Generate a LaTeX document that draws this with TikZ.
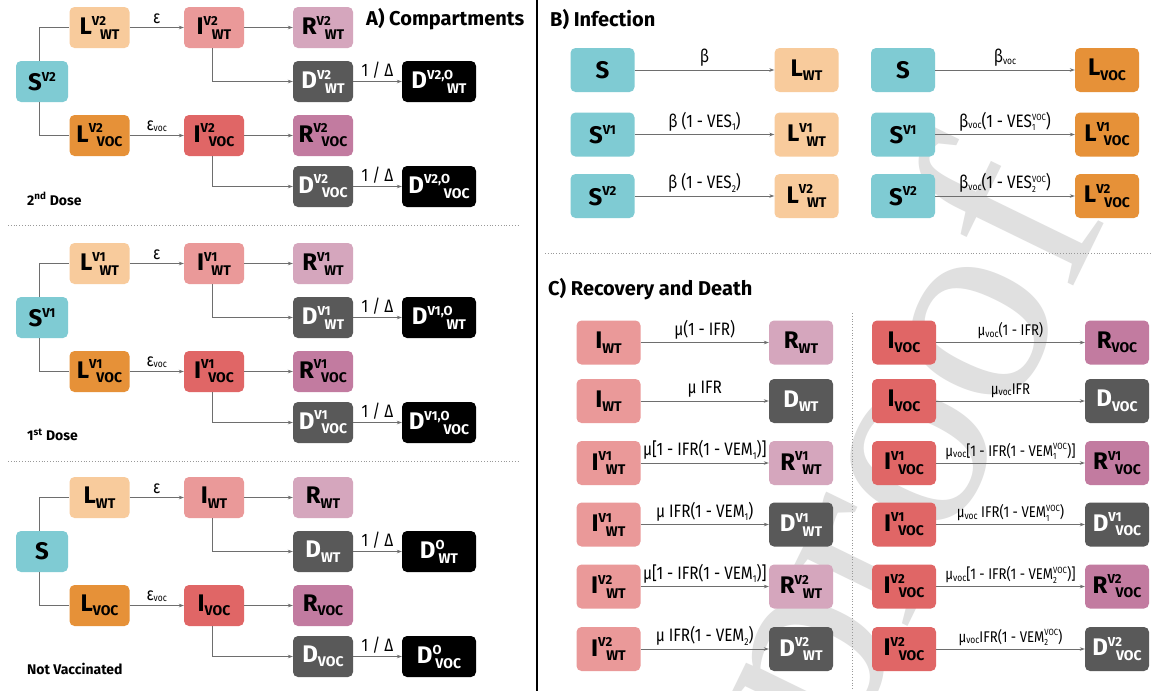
\documentclass[tikz,border=0pt]{standalone}
\usepackage{fontspec}
\setmainfont{Fira Sans}
\newfontfamily\lfont{Fira Sans}[FakeStretch=0.85]
\newfontfamily\wmfont{Liberation Serif}
\usetikzlibrary{arrows.meta}
\definecolor{cS}{HTML}{7FCBD3}
\definecolor{cLW}{HTML}{F8CB9C}
\definecolor{cLV}{HTML}{E69138}
\definecolor{cIW}{HTML}{EA9999}
\definecolor{cIV}{HTML}{E06666}
\definecolor{cRW}{HTML}{D5A6BD}
\definecolor{cRV}{HTML}{C27BA0}
\definecolor{cD}{HTML}{595959}
\definecolor{cLine}{HTML}{6E6E6E}
\definecolor{wmc}{HTML}{E0E0E0}
\newcommand\Up[1]{\raisebox{9.5pt}{\fontsize{13}{13}\selectfont #1}}
\newcommand\Dn[1]{\raisebox{-4.5pt}{\fontsize{14}{14}\selectfont #1}}
\newcommand\cx[3]{\def\tmpa{#2}\ifx\tmpa\empty #1\Dn{#3}\else #1\Up{#2}\kern-6pt\Dn{#3}\fi}
\newcommand\cy[2]{\def\tmpa{#2}\ifx\tmpa\empty #1\else #1\Up{#2}\fi}
\newcommand\lsub[1]{\raisebox{-1.5pt}{\fontsize{10}{10}\selectfont #1}}
\newcommand\lsb[1]{\raisebox{-3.5pt}{\fontsize{10}{10}\selectfont #1}}
\newcommand\lss[2]{\makebox[0pt][l]{\raisebox{-3.5pt}{\fontsize{9}{9}\selectfont #2}}\raisebox{6.5pt}{\fontsize{9}{9}\selectfont #1}}
\tikzset{
  bx/.style={rounded corners=5pt, inner sep=0pt, font=\bfseries\fontsize{24}{24}\selectfont, text=black},
  ba/.style={bx, minimum width=60pt, minimum height=41pt},
  bb/.style={bx, minimum width=64pt, minimum height=44pt},
  ln/.style={draw=cLine, line width=0.9pt},
  arr/.style={ln, -{Stealth[length=5pt,width=3.6pt]}},
  lab/.style={font=\lfont\fontsize{18}{18}\selectfont, text=black, inner sep=3pt},
  labr/.style={font=\lfont\fontsize{15.5}{15.5}\selectfont, text=black, inner sep=3pt},
  ttl/.style={font=\bfseries\fontsize{20}{20}\selectfont, anchor=west, inner sep=0pt},
  dose/.style={font=\bfseries\fontsize{14}{14}\selectfont, anchor=west, inner sep=0pt},
  sep/.style={draw=gray!80, dotted, line width=0.8pt},
}
\newcommand\Ablock[5]{%
\node[bx,fill=cS,minimum width=52pt,minimum height=41pt] (#2S) at (42,{81.5+#1}) {\cy{S}{#3}};
\node[ba,fill=cLW] (#2LW) at (99.5,{27.5+#1}) {\cx{L}{#3}{WT}};
\node[ba,fill=cIW] (#2IW) at (214,{27.5+#1}) {\cx{I}{#3}{WT}};
\node[ba,fill=cRW] (#2RW) at (323,{27.5+#1}) {\cx{R}{#3}{WT}};
\node[ba,fill=cD,text=white] (#2DW) at (323,{81.5+#1}) {\cx{D}{#3}{WT}};
\node[ba,fill=black,text=white,minimum width=74pt] (#2OW) at (439,{81.5+#1}) {\cx{D}{#4}{WT}};
\node[ba,fill=cLV] (#2LV) at (99.5,{135.5+#1}) {\cx{L}{#3}{VOC}};
\node[ba,fill=cIV] (#2IV) at (214,{135.5+#1}) {\cx{I}{#3}{VOC}};
\node[ba,fill=cRV] (#2RV) at (323,{135.5+#1}) {\cx{R}{#3}{VOC}};
\node[ba,fill=cD,text=white] (#2DV) at (323,{186.5+#1}) {\cx{D}{#3}{VOC}};
\node[ba,fill=black,text=white,minimum width=74pt] (#2OV) at (439,{186.5+#1}) {\cx{D}{#4}{VOC}};
\node[dose] (#2lab) at (27,{199+#1}) {#5};
\draw[ln] ([xshift=-3pt]#2S.north) |- (#2LW.west);
\draw[ln] ([xshift=-3pt]#2S.south) |- (#2LV.west);
\draw[arr] (#2LW) -- node[lab,above]{ε} (#2IW);
\draw[arr] (#2IW) -- (#2RW);
\draw[arr] ([xshift=-2pt]#2IW.south) |- (#2DW.west);
\draw[arr] (#2DW) -- node[lab,above]{1 / Δ} (#2OW);
\draw[arr] (#2LV) -- node[lab,above]{ε\lsub{voc}} (#2IV);
\draw[arr] (#2IV) -- (#2RV);
\draw[arr] ([xshift=-2pt]#2IV.south) |- (#2DV.west);
\draw[arr] (#2DV) -- node[lab,above]{1 / Δ} (#2OV);
}
\begin{document}
\begin{tikzpicture}[x=1pt,y=-1pt]
\useasboundingbox (0,0) rectangle (1152,691);
\fill[white] (0,0) rectangle (1152,691);
\clip (0,0) rectangle (1152,691);
% watermark
\node[rotate=64, text=wmc, font=\wmfont\fontsize{280}{280}\selectfont] (wm) at (915,455) {proof};
% separators
\draw[black, line width=1.1pt] (537,0) -- (537,691);
\draw[sep] (8,225) -- (518,225);
\draw[sep] (8,461) -- (518,461);
\draw[sep] (545,253) -- (1150,253);
\draw[sep] (852,313) -- (852,691);
% A
\node[ttl] (tA) at (366,19) {A) Compartments};
\Ablock{0}{a}{V2}{V2,O}{2\textsuperscript{nd} Dose}
\Ablock{236}{b}{V1}{V1,O}{1\textsuperscript{st} Dose}
\Ablock{470}{c}{}{O}{Not Vaccinated}
% B
\node[ttl] (tB) at (550,19) {B) Infection};
\node[bb,fill=cS] (p1) at (602.5,70) {S};
\node[bb,fill=cLW] (q1) at (806.5,70) {\cx{L}{}{WT}};
\node[bb,fill=cS] (r1) at (903,70) {S};
\node[bb,fill=cLV] (s1) at (1107,70) {\cx{L}{}{VOC}};
\node[bb,fill=cS] (p2) at (602.5,134.5) {\cy{S}{V1}};
\node[bb,fill=cLW] (q2) at (806.5,134.5) {\cx{L}{V1}{WT}};
\node[bb,fill=cS] (r2) at (903,134.5) {\cy{S}{V1}};
\node[bb,fill=cLV] (s2) at (1107,134.5) {\cx{L}{V1}{VOC}};
\node[bb,fill=cS] (p3) at (602.5,196) {\cy{S}{V2}};
\node[bb,fill=cLW] (q3) at (806.5,196) {\cx{L}{V2}{WT}};
\node[bb,fill=cS] (r3) at (903,196) {\cy{S}{V2}};
\node[bb,fill=cLV] (s3) at (1107,196) {\cx{L}{V2}{VOC}};
\draw[arr] (p1) -- node[lab,above]{β} (q1);
\draw[arr] (p2) -- node[lab,above]{β (1 - VES\lsb{1})} (q2);
\draw[arr] (p3) -- node[lab,above]{β (1 - VES\lsb{2})} (q3);
\draw[arr] (r1) -- node[lab,above]{β\lsub{voc}} (s1);
\draw[arr] (r2) -- node[lab,above]{β\lsub{voc}(1 - VES\lss{VOC}{1})} (s2);
\draw[arr] (r3) -- node[lab,above]{β\lsub{voc}(1 - VES\lss{VOC}{2})} (s3);
% C
\node[ttl] (tC) at (548,289) {C) Recovery and Death};
\node[bb,fill=cIW] (u1) at (608.5,342.5) {\cx{I}{}{WT}};
\node[bb,fill=cRW] (v1) at (801,342.5) {\cx{R}{}{WT}};
\node[bb,fill=cIW] (u2) at (608.5,401) {\cx{I}{}{WT}};
\node[bb,fill=cD,text=white] (v2) at (801,401) {\cx{D}{}{WT}};
\node[bb,fill=cIW] (u3) at (608.5,463) {\cx{I}{V1}{WT}};
\node[bb,fill=cRW] (v3) at (801,463) {\cx{R}{V1}{WT}};
\node[bb,fill=cIW] (u4) at (608.5,524.5) {\cx{I}{V1}{WT}};
\node[bb,fill=cD,text=white] (v4) at (801,524.5) {\cx{D}{V1}{WT}};
\node[bb,fill=cIW] (u5) at (608.5,586.5) {\cx{I}{V2}{WT}};
\node[bb,fill=cRW] (v5) at (801,586.5) {\cx{R}{V2}{WT}};
\node[bb,fill=cIW] (u6) at (608.5,649) {\cx{I}{V2}{WT}};
\node[bb,fill=cD,text=white] (v6) at (801,649) {\cx{D}{V2}{WT}};
\node[bb,fill=cIV] (w1) at (904,342.5) {\cx{I}{}{VOC}};
\node[bb,fill=cRV] (z1) at (1117,342.5) {\cx{R}{}{VOC}};
\node[bb,fill=cIV] (w2) at (904,401) {\cx{I}{}{VOC}};
\node[bb,fill=cD,text=white] (z2) at (1117,401) {\cx{D}{}{VOC}};
\node[bb,fill=cIV] (w3) at (904,463) {\cx{I}{V1}{VOC}};
\node[bb,fill=cRV] (z3) at (1117,463) {\cx{R}{V1}{VOC}};
\node[bb,fill=cIV] (w4) at (904,524.5) {\cx{I}{V1}{VOC}};
\node[bb,fill=cD,text=white] (z4) at (1117,524.5) {\cx{D}{V1}{VOC}};
\node[bb,fill=cIV] (w5) at (904,586.5) {\cx{I}{V2}{VOC}};
\node[bb,fill=cRV] (z5) at (1117,586.5) {\cx{R}{V2}{VOC}};
\node[bb,fill=cIV] (w6) at (904,649) {\cx{I}{V2}{VOC}};
\node[bb,fill=cD,text=white] (z6) at (1117,649) {\cx{D}{V2}{VOC}};
\draw[arr] (u1) -- node[lab,above]{μ(1 - IFR)} (v1);
\draw[arr] (u2) -- node[lab,above]{μ IFR} (v2);
\draw[arr] (u3) -- node[lab,above]{μ[1 - IFR(1 - VEM\lsb{1})]} (v3);
\draw[arr] (u4) -- node[lab,above]{μ IFR(1 - VEM\lsb{1})} (v4);
\draw[arr] (u5) -- node[lab,above]{μ[1 - IFR(1 - VEM\lsb{1})]} (v5);
\draw[arr] (u6) -- node[lab,above]{μ IFR(1 - VEM\lsb{2})} (v6);
\draw[arr] (w1) -- node[labr,above]{μ\lsub{voc}(1 - IFR)} (z1);
\draw[arr] (w2) -- node[labr,above]{μ\lsub{voc}IFR} (z2);
\draw[arr] (w3) -- node[labr,above]{μ\lsub{voc}[1 - IFR(1 - VEM\lss{VOC}{1})]} (z3);
\draw[arr] (w4) -- node[labr,above]{μ\lsub{voc} IFR(1 - VEM\lss{VOC}{1})} (z4);
\draw[arr] (w5) -- node[labr,above]{μ\lsub{voc}[1 - IFR(1 - VEM\lss{VOC}{2})]} (z5);
\draw[arr] (w6) -- node[labr,above]{μ\lsub{voc}IFR(1 - VEM\lss{VOC}{2})} (z6);
\end{tikzpicture}
\end{document}
